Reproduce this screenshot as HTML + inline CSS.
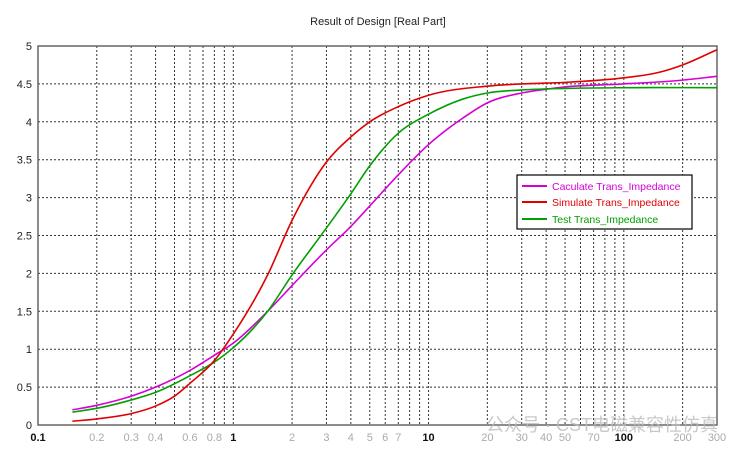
<!DOCTYPE html>
<html><head><meta charset="utf-8"><style>
body{margin:0;background:#fff;width:744px;height:455px;overflow:hidden}
text{font-family:"Liberation Sans","Noto Sans CJK SC",sans-serif}
</style></head><body>
<svg id="chart" width="744" height="455">
<text x="378" y="25" font-size="11" text-anchor="middle" fill="#222">Result of Design [Real Part]</text>
<g id="grid"></g><g id="axes"></g><g id="series"></g>
<text x="718" y="431" font-size="18" text-anchor="end" fill="#bbb" opacity="0.8">公众号 · CST电磁兼容性仿真</text>
<g>
<rect x="517" y="175" width="175" height="54" fill="#fff" stroke="#000" stroke-width="1.2"/>
<line x1="522" y1="186" x2="547" y2="186" stroke="#d600d6" stroke-width="2"/>
<text x="552" y="190" font-size="10.5" fill="#d600d6">Caculate Trans_Impedance</text>
<line x1="522" y1="202" x2="547" y2="202" stroke="#e00000" stroke-width="2"/>
<text x="552" y="206" font-size="10.5" fill="#e00000">Simulate Trans_Impedance</text>
<line x1="522" y1="219" x2="547" y2="219" stroke="#00a000" stroke-width="2"/>
<text x="552" y="223" font-size="10.5" fill="#00a000">Test Trans_Impedance</text>
</g>
</svg>
<script>
const xCalc=[0.15,0.2,0.3,0.4,0.6,0.8,1,1.5,2,3,4,5,7,10,15,20,30,40,50,100,200,300];
const yCalc=[0.2,0.26,0.38,0.5,0.72,0.92,1.08,1.5,1.84,2.31,2.62,2.89,3.3,3.7,4.05,4.25,4.38,4.43,4.46,4.5,4.55,4.6];
const xSim=[0.15,0.2,0.3,0.4,0.5,0.6,0.8,1,1.5,2,3,4,5,7,10,20,30,50,100,150,200,300];
const ySim=[0.05,0.08,0.15,0.25,0.38,0.55,0.85,1.2,1.98,2.7,3.47,3.8,4.0,4.2,4.35,4.47,4.5,4.52,4.58,4.65,4.75,4.95];
const xTest=[0.15,0.2,0.3,0.4,0.6,0.8,1,1.5,2,3,4,5,7,10,15,20,30,50,100,300];
const yTest=[0.17,0.22,0.33,0.43,0.65,0.83,1.02,1.5,1.98,2.6,3.05,3.42,3.85,4.1,4.3,4.38,4.42,4.44,4.45,4.45];
const yTicks=[0,0.5,1,1.5,2,2.5,3,3.5,4,4.5,5];
const xGrid=[0.2,0.3,0.4,0.5,0.6,0.7,0.8,0.9,1,2,3,4,5,6,7,8,9,10,20,30,40,50,60,70,80,90,100,200];
const xLabels=[0.1,0.2,0.3,0.4,0.6,0.8,1,2,3,4,5,6,7,10,20,30,40,50,70,100,200,300];
const X0=38,X1=717,Y0=425,Y1=46;
const lmin=Math.log10(0.1),lmax=Math.log10(300);
const sx=v=>X0+(Math.log10(v)-lmin)/(lmax-lmin)*(X1-X0);
const sy=v=>Y0-v/5*(Y0-Y1);
const NS="http://www.w3.org/2000/svg";
function mk(t,a,p){const e=document.createElementNS(NS,t);for(const k in a)e.setAttribute(k,a[k]);p.appendChild(e);return e;}
const g=document.getElementById('grid'),ax=document.getElementById('axes'),s=document.getElementById('series');
yTicks.forEach(v=>{
 if(v>0&&v<5){const l=mk('line',{x1:X0,x2:X1,y1:sy(v),y2:sy(v),stroke:'#333','stroke-width':1,'stroke-dasharray':'2,2'},g);
 
 }
 const t=mk('text',{x:X0-6,y:sy(v)+4,'font-size':11,'text-anchor':'end',fill:'#222'},ax);t.textContent=v;
 
 
});
xGrid.forEach(v=>{
 const l=mk('line',{x1:sx(v),x2:sx(v),y1:Y1,y2:Y0,stroke:'#333','stroke-width':1,'stroke-dasharray':'2,2'},g);
 
 
});
xLabels.forEach(v=>{
 const major=[0.1,1,10,100].includes(v);
 const t=mk('text',{x:sx(v),y:441,'font-size':11,'text-anchor':'middle',fill:major?'#111':'#aaa','font-weight':major?'bold':'normal'},ax);t.textContent=v;
 
 
});
const fr=mk('rect',{x:X0,y:Y1,width:X1-X0,height:Y0-Y1,fill:'none',stroke:'#666','stroke-width':1.5},ax);


function path(xs,ys){
 const p=xs.map((x,i)=>[sx(x),sy(ys[i])]);const n=p.length;
 const h=[],d0=[];for(let i=0;i<n-1;i++){h.push(p[i+1][0]-p[i][0]);d0.push((p[i+1][1]-p[i][1])/h[i]);}
 const m=p.map((_,i)=>i==0?d0[0]:i==n-1?d0[n-2]:(d0[i-1]*h[i]+d0[i]*h[i-1])/(h[i-1]+h[i]));
 let d='M'+p[0][0]+','+p[0][1];
 for(let i=0;i<n-1;i++){const a=p[i],b=p[i+1],k=h[i]/3;
  d+=' C'+(a[0]+k)+','+(a[1]+m[i]*k)+' '+(b[0]-k)+','+(b[1]-m[i+1]*k)+' '+b[0]+','+b[1];}
 return d;}
const c1=mk('path',{d:path(xCalc,yCalc),fill:'none',stroke:'#d600d6','stroke-width':1.6},s);


const c3=mk('path',{d:path(xTest,yTest),fill:'none',stroke:'#00a000','stroke-width':1.6},s);


const c2=mk('path',{d:path(xSim,ySim),fill:'none',stroke:'#e00000','stroke-width':1.6},s);


</script>
</body></html>
